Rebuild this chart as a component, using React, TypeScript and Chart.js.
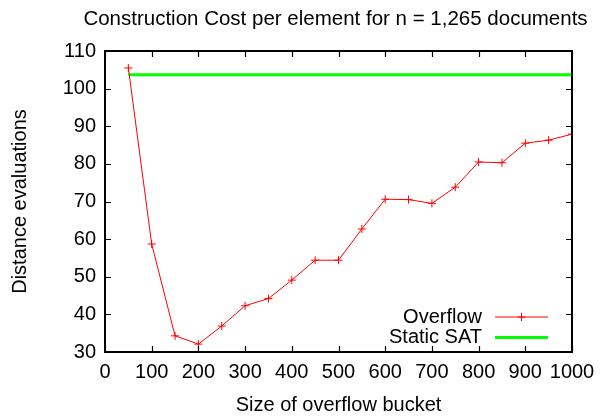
import React, { useEffect, useRef } from "react";
import { Chart, registerables } from "chart.js";

Chart.register(...registerables);

const TITLE = "Construction Cost per element for n = 1,265 documents";
const X_LABEL = "Size of overflow bucket";
const Y_LABEL = "Distance evaluations";

const bucketSizes = [50, 100, 150, 200, 250, 300, 350, 400, 450, 500, 550, 600, 650, 700, 750, 800, 850, 900, 950, 1000];
const overflowValues = [105.5, 58.7, 34.3, 32.1, 36.9, 42.3, 44.2, 49.1, 54.4, 54.4, 62.7, 70.6, 70.5, 69.5, 73.8, 80.5, 80.3, 85.5, 86.3, 87.9];
const staticX = [50, 1000];
const staticValues = [103.7, 103.7];

const FONT = "'Liberation Sans', Arial, Helvetica, sans-serif";

const framePlugin = {
  id: "gnuFrame",
  afterDatasetsDraw(chart: any) {
    const { ctx, chartArea: ca, scales } = chart;
    const xs = scales.x;
    const ys = scales.y;
    ctx.save();
    // inward ticks
    ctx.strokeStyle = "#000";
    ctx.lineWidth = 1.2;
    const tl = 6;
    ctx.beginPath();
    xs.ticks.forEach((t: any) => {
      const px = Math.round(xs.getPixelForValue(t.value)) + 0.5;
      ctx.moveTo(px, ca.bottom);
      ctx.lineTo(px, ca.bottom - tl);
      ctx.moveTo(px, ca.top);
      ctx.lineTo(px, ca.top + tl);
    });
    ys.ticks.forEach((t: any) => {
      const py = Math.round(ys.getPixelForValue(t.value)) + 0.5;
      ctx.moveTo(ca.left, py);
      ctx.lineTo(ca.left + tl, py);
      ctx.moveTo(ca.right, py);
      ctx.lineTo(ca.right - tl, py);
    });
    ctx.stroke();
    // frame
    ctx.lineWidth = 2;
    ctx.strokeRect(ca.left, ca.top, ca.right - ca.left, ca.bottom - ca.top);

    // legend
    ctx.font = `20px ${FONT}`;
    ctx.textAlign = "right";
    ctx.textBaseline = "middle";
    ctx.fillStyle = "#000";
    const textRight = ca.right - 90;
    const lineStart = ca.right - 77;
    const lineEnd = ca.right - 24;
    const rows = [ca.bottom - 35, ca.bottom - 14.5];
    chart.data.datasets.forEach((ds: any, i: number) => {
      const y = rows[i];
      ctx.fillText(ds.label, textRight, y);
      ctx.strokeStyle = ds.borderColor;
      ctx.lineWidth = ds.borderWidth;
      ctx.beginPath();
      ctx.moveTo(lineStart, y);
      ctx.lineTo(lineEnd, y);
      ctx.stroke();
      if (ds.pointRadius > 0) {
        const cx = (lineStart + lineEnd) / 2;
        const r = ds.pointRadius;
        ctx.lineWidth = 1;
        ctx.beginPath();
        ctx.moveTo(cx - r, y);
        ctx.lineTo(cx + r, y);
        ctx.moveTo(cx, y - r);
        ctx.lineTo(cx, y + r);
        ctx.stroke();
      }
    });

    // title
    ctx.font = `20.5px ${FONT}`;
    ctx.fillStyle = "#000";
    ctx.textAlign = "center";
    ctx.textBaseline = "middle";
    ctx.fillText(TITLE, (ca.left + ca.right) / 2 - 3, 19);
    ctx.restore();
  },
};

export default function App() {
  const canvasRef = useRef<HTMLCanvasElement | null>(null);

  useEffect(() => {
    if (!canvasRef.current) return;
    const chart = new Chart(canvasRef.current, {
      type: "line",
      data: {
        datasets: [
          {
            label: "Overflow",
            data: bucketSizes.map((x, i) => ({ x, y: overflowValues[i] })),
            borderColor: "#ff0000",
            backgroundColor: "#ff0000",
            borderWidth: 1,
            pointStyle: "cross",
            pointRadius: 4,
            pointBorderWidth: 1,
            pointBorderColor: "#ff0000",
            tension: 0,
            fill: false,
          },
          {
            label: "Static SAT",
            data: staticX.map((x, i) => ({ x, y: staticValues[i] })),
            borderColor: "#00ff00",
            backgroundColor: "#00ff00",
            borderWidth: 3,
            pointRadius: 0,
            tension: 0,
            fill: false,
          },
        ],
      },
      options: {
        animation: false,
        responsive: true,
        maintainAspectRatio: false,
        layout: { padding: { top: 51, right: 38, left: 0, bottom: 0 } },
        plugins: {
          legend: { display: false },
          title: { display: false },
          tooltip: { enabled: false },
        },
        scales: {
          x: {
            type: "linear",
            min: 0,
            max: 1000,
            ticks: {
              stepSize: 100,
              color: "#000",
              font: { family: FONT, size: 20 },
              padding: 8,
              maxRotation: 0,
              autoSkip: false,
              callback: (v: any) => String(v),
            },
            grid: { display: false, drawTicks: false },
            border: { display: false },
            title: {
              display: true,
              text: X_LABEL,
              color: "#000",
              font: { family: FONT, size: 20 },
              padding: { top: 0, bottom: -1 },
            },
            afterFit: (scale: any) => {
              scale.height = 64;
            },
          },
          y: {
            type: "linear",
            min: 30,
            max: 110,
            ticks: {
              stepSize: 10,
              color: "#000",
              font: { family: FONT, size: 20 },
              padding: 9,
              callback: (v: any) => String(v),
            },
            grid: { display: false, drawTicks: false },
            border: { display: false },
            title: {
              display: true,
              text: Y_LABEL,
              color: "#000",
              font: { family: FONT, size: 20 },
              padding: { top: 8, bottom: 0 },
            },
            afterFit: (scale: any) => {
              scale.width = 105;
            },
          },
        },
      },
      plugins: [framePlugin],
    });
    return () => chart.destroy();
  }, []);

  return (
    <div style={{ position: "absolute", left: 0, top: 0, width: 610, height: 416, background: "#fff" }}>
      <canvas ref={canvasRef} />
    </div>
  );
}
